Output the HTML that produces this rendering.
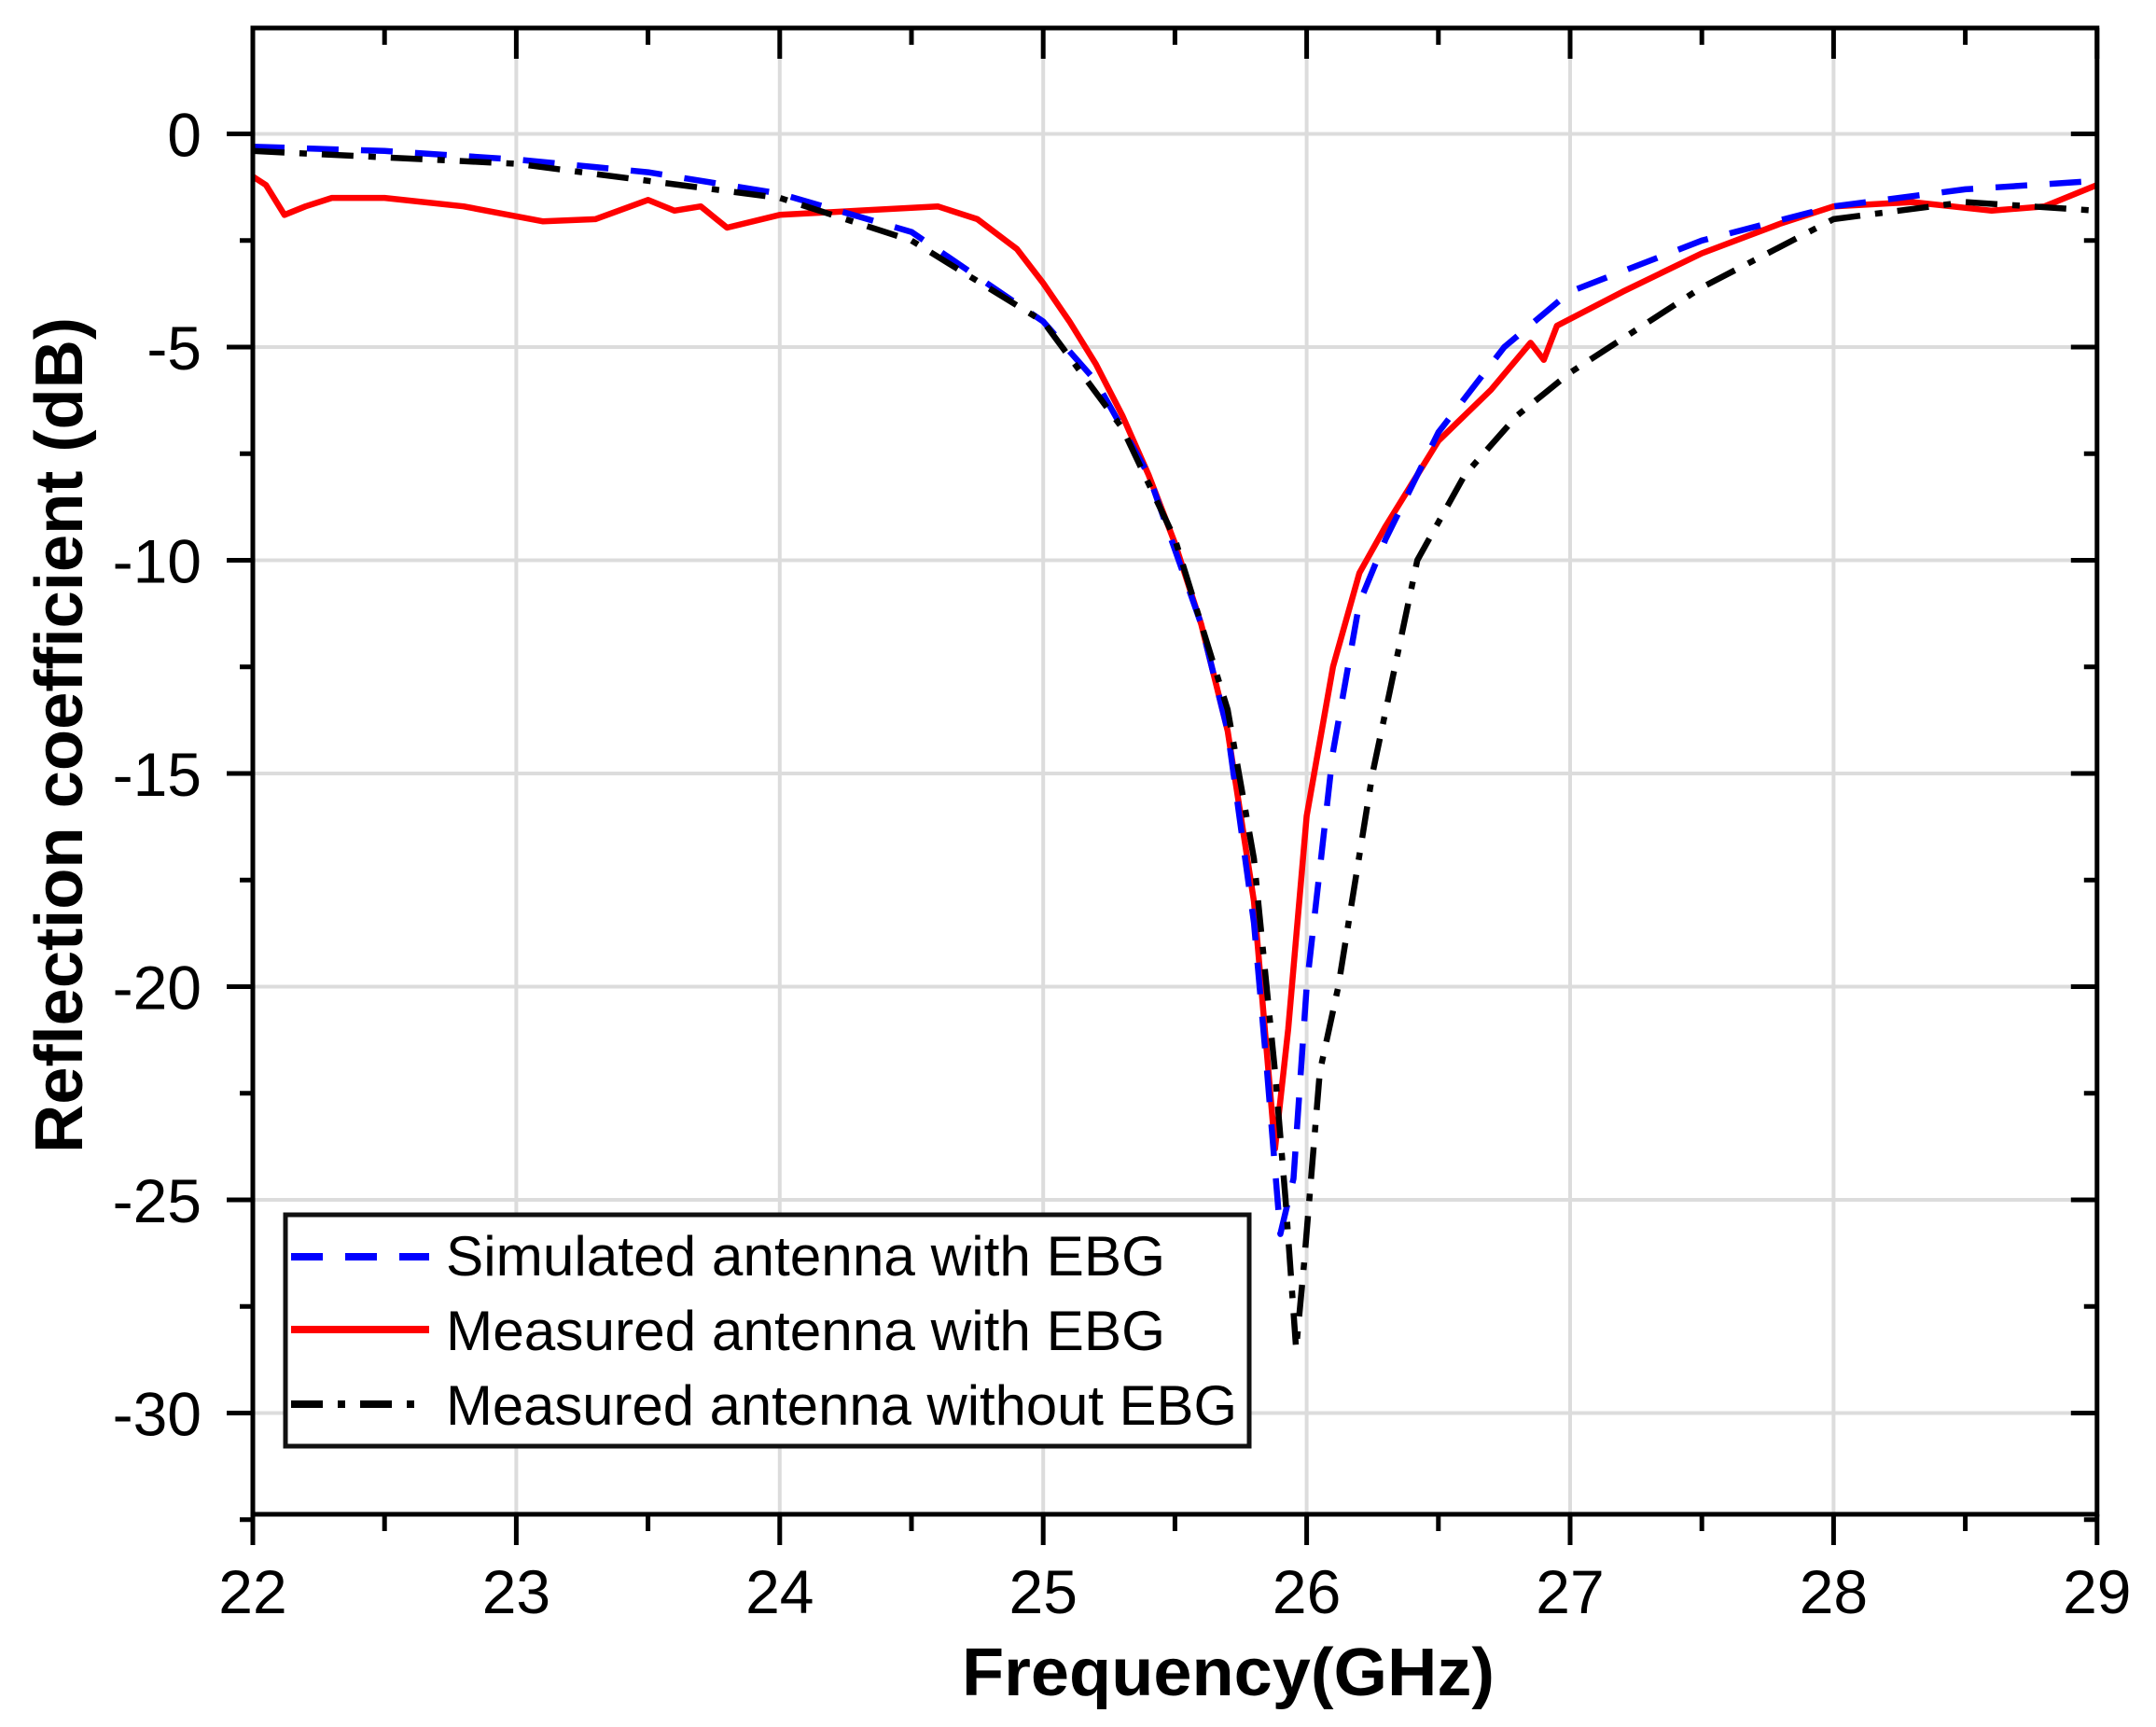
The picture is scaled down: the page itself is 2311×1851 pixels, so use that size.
<!DOCTYPE html>
<html><head><meta charset="utf-8"><style>html,body{margin:0;padding:0;background:#fff}svg{display:block}</style></head>
<body>
<svg id="s" width="2311" height="1851" viewBox="0 0 2311 1851" xmlns="http://www.w3.org/2000/svg" font-family="Liberation Sans, Arial, sans-serif">
<g id="grid" stroke="#dcdcdc" stroke-width="4"></g>
<g id="curves" fill="none" stroke-width="6.5" stroke-linejoin="round"></g>
<g id="axes" stroke="#000" stroke-width="5" fill="none"></g>
<g id="labels" font-size="66" fill="#000"></g>
<rect x="306" y="1302" width="1033" height="248" fill="#fff" stroke="#111" stroke-width="5"/>
<line x1="312" y1="1347" x2="460" y2="1347" stroke="#0000ff" stroke-width="8" stroke-dasharray="34,24"/>
<line x1="312" y1="1425" x2="460" y2="1425" stroke="#ff0000" stroke-width="8"/>
<line x1="312" y1="1505" x2="460" y2="1505" stroke="#000" stroke-width="8" stroke-dasharray="34,16,8,16"/>
<g font-size="60" fill="#000">
<text x="478" y="1367" textLength="771" lengthAdjust="spacingAndGlyphs">Simulated antenna with EBG</text>
<text x="478" y="1447" textLength="771" lengthAdjust="spacingAndGlyphs">Measured antenna with EBG</text>
<text x="478" y="1527" textLength="848" lengthAdjust="spacingAndGlyphs">Measured antenna without EBG</text>
</g>
<text x="1031" y="1817" font-size="72" font-weight="bold" textLength="571" lengthAdjust="spacingAndGlyphs">Frequency(GHz)</text>
<text transform="translate(88,788) rotate(-90)" text-anchor="middle" font-size="72" font-weight="bold" textLength="896" lengthAdjust="spacingAndGlyphs">Reflection coefficient (dB)</text>
</svg>
<script>
var X0=271,KX=282.4,Y0=143.5,KY=45.7;
function X(f){return X0+(f-22)*KX}function Y(v){return Y0-v*KY}
var ns="http://www.w3.org/2000/svg";
function el(p,t,a,txt){var e=document.createElementNS(ns,t);for(var k in a)e.setAttribute(k,a[k]);if(txt!=null)e.textContent=txt;document.getElementById(p).appendChild(e);return e}
var L=X(22),R=X(29),T=30,B=1623;
for(var f=23;f<29;f++)el("grid","line",{x1:X(f),y1:T,x2:X(f),y2:B});
for(var v=0;v>=-30;v-=5)el("grid","line",{x1:L,y1:Y(v),x2:R,y2:Y(v)});
el("axes","rect",{x:L,y:T,width:R-L,height:B-T});
for(var f=22;f<=29;f+=0.5){var maj=f%1==0;el("axes","line",{x1:X(f),y1:B,x2:X(f),y2:B+(maj?33:18)});el("axes","line",{x1:X(f),y1:T,x2:X(f),y2:T+(maj?33:18)});
 if(maj)el("labels","text",{x:X(f),y:1729,"text-anchor":"middle"},String(f));}
for(var v=0;v>=-32.5;v-=2.5){var maj=v%5==0;el("axes","line",{x1:L,y1:Y(v),x2:L-(maj?28:14),y2:Y(v)});el("axes","line",{x1:R,y1:Y(v),x2:R-(maj?28:14),y2:Y(v)});
 if(maj)el("labels","text",{x:216,y:Y(v)+24,"text-anchor":"end"},String(v));}
function path(d,c,da){var s="";d.forEach(function(p,i){s+=(i?"L":"M")+X(p[0]).toFixed(1)+","+Y(p[1]).toFixed(1)});var a={d:s,stroke:c};if(da)a["stroke-dasharray"]=da;el("curves","path",a)}
path([[22,-1.0],[22.05,-1.2],[22.12,-1.9],[22.2,-1.7],[22.3,-1.5],[22.5,-1.5],[22.8,-1.7],[23.1,-2.05],[23.3,-2.0],[23.5,-1.55],[23.6,-1.8],[23.7,-1.7],[23.8,-2.2],[24,-1.9],[24.3,-1.8],[24.6,-1.7],[24.75,-2.0],[24.9,-2.7],[25,-3.5],[25.1,-4.4],[25.2,-5.4],[25.3,-6.6],[25.4,-8],[25.5,-9.6],[25.6,-11.5],[25.7,-14],[25.8,-18],[25.88,-23.8],[25.93,-21],[26.0,-16],[26.1,-12.5],[26.2,-10.3],[26.3,-9.2],[26.5,-7.2],[26.7,-6],[26.85,-4.9],[26.9,-5.3],[26.95,-4.5],[27.2,-3.7],[27.5,-2.8],[27.8,-2.1],[28,-1.7],[28.3,-1.6],[28.6,-1.8],[28.8,-1.7],[29,-1.2]],"#ff0000");
path([[22,-0.3],[22.5,-0.4],[23,-0.6],[23.5,-0.9],[24,-1.4],[24.5,-2.3],[25,-4.4],[25.2,-5.8],[25.4,-8],[25.6,-11.5],[25.7,-14],[25.8,-18.5],[25.85,-22],[25.9,-25.8],[25.95,-24.5],[26.0,-20],[26.1,-14.5],[26.2,-11],[26.3,-9.5],[26.5,-7],[26.75,-5],[27,-3.7],[27.5,-2.5],[28,-1.7],[28.5,-1.3],[29,-1.1]],"#0000ff","34,24");
path([[22,-0.4],[23,-0.7],[24,-1.5],[24.5,-2.5],[25,-4.4],[25.3,-6.9],[25.5,-9.5],[25.7,-13.5],[25.8,-17],[25.88,-22],[25.92,-25],[25.96,-28.5],[25.99,-26.5],[26.05,-22],[26.12,-20],[26.25,-15],[26.42,-10],[26.6,-8],[26.8,-6.6],[27,-5.6],[27.5,-3.6],[28,-2],[28.5,-1.6],[29,-1.8]],"#000","34,16,8,16");
</script>
</body></html>
